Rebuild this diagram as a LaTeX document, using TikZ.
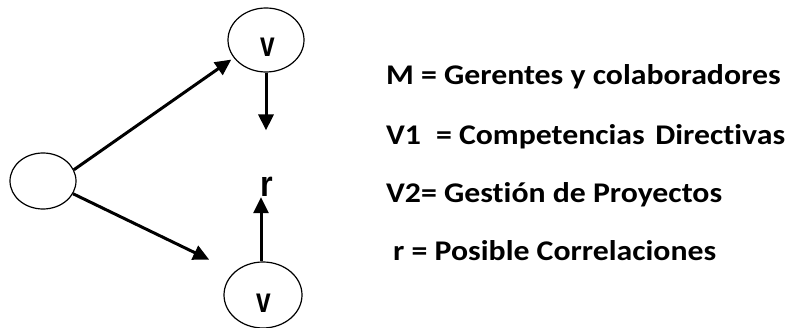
\documentclass[tikz,border=0pt]{standalone}
\usepackage{fontspec}
\usepackage{graphicx}
\usetikzlibrary{shapes.geometric,arrows.meta}
\setmainfont{Carlito}[Ligatures={NoCommon}]
\newfontfamily\arialbold{Liberation Sans Bold}
\newcommand{\widetext}[1]{\scalebox{1.115}[1]{#1}}
\tikzset{
  varnode/.style={draw, ellipse, line width=1.2pt, inner sep=0pt},
  flow/.style={line width=3pt, -{Triangle[length=16pt,width=15pt]}},
  legend/.style={anchor=base west, inner sep=0pt, font=\fontsize{28.5}{32}\selectfont\bfseries},
  vlabel/.style={anchor=base, inner sep=0pt, font=\fontsize{35}{38}\selectfont\arialbold}
}
\begin{document}
\begin{tikzpicture}[x=1pt, y=-1pt]
  \useasboundingbox (0,0) rectangle (787,328);

  % sample and the two variables
  \node[varnode, minimum width=66pt, minimum height=56pt] (m) at (43,181) {};
  \node[varnode, minimum width=76pt, minimum height=64pt] (v1) at (266,40) {};
  \node[varnode, minimum width=78pt, minimum height=66pt] (v2) at (263,295) {};

  \node[vlabel] (v1t) at (268,56.5) {\scalebox{0.75}[1]{v}};
  \node[vlabel] (v2t) at (264,312.5) {\scalebox{0.75}[1]{v}};
  \node[vlabel, font=\fontsize{36}{38}\selectfont\arialbold] (r) at (267,197) {\scalebox{0.9}[1]{r}};

  % relations
  \draw[flow, shorten >=3pt] (m.20) -- (v1.209);
  \draw[flow, shorten >=28pt] (m.-23) -- (v2.141);
  \draw[flow, shorten >=47pt] (v1.south) -- (v1.south |- r.north);
  \draw[flow] ([xshift=-2pt]v2.north) -- ([xshift=-2pt]v2.north |- r.south);

  % legend
  \node[legend] (l1) at (386,85) {\widetext{M = Gerentes y colaboradores}};
  \node[legend] (l2) at (386,145) {\widetext{V1\hspace{7pt} = Competencias\hspace{3pt} Directivas}};
  \node[legend] (l3) at (386,203) {\widetext{V2= Gestión de Proyectos}};
  \node[legend] (l4) at (393,261) {\widetext{r = Posible Correlaciones}};
\end{tikzpicture}
\end{document}
